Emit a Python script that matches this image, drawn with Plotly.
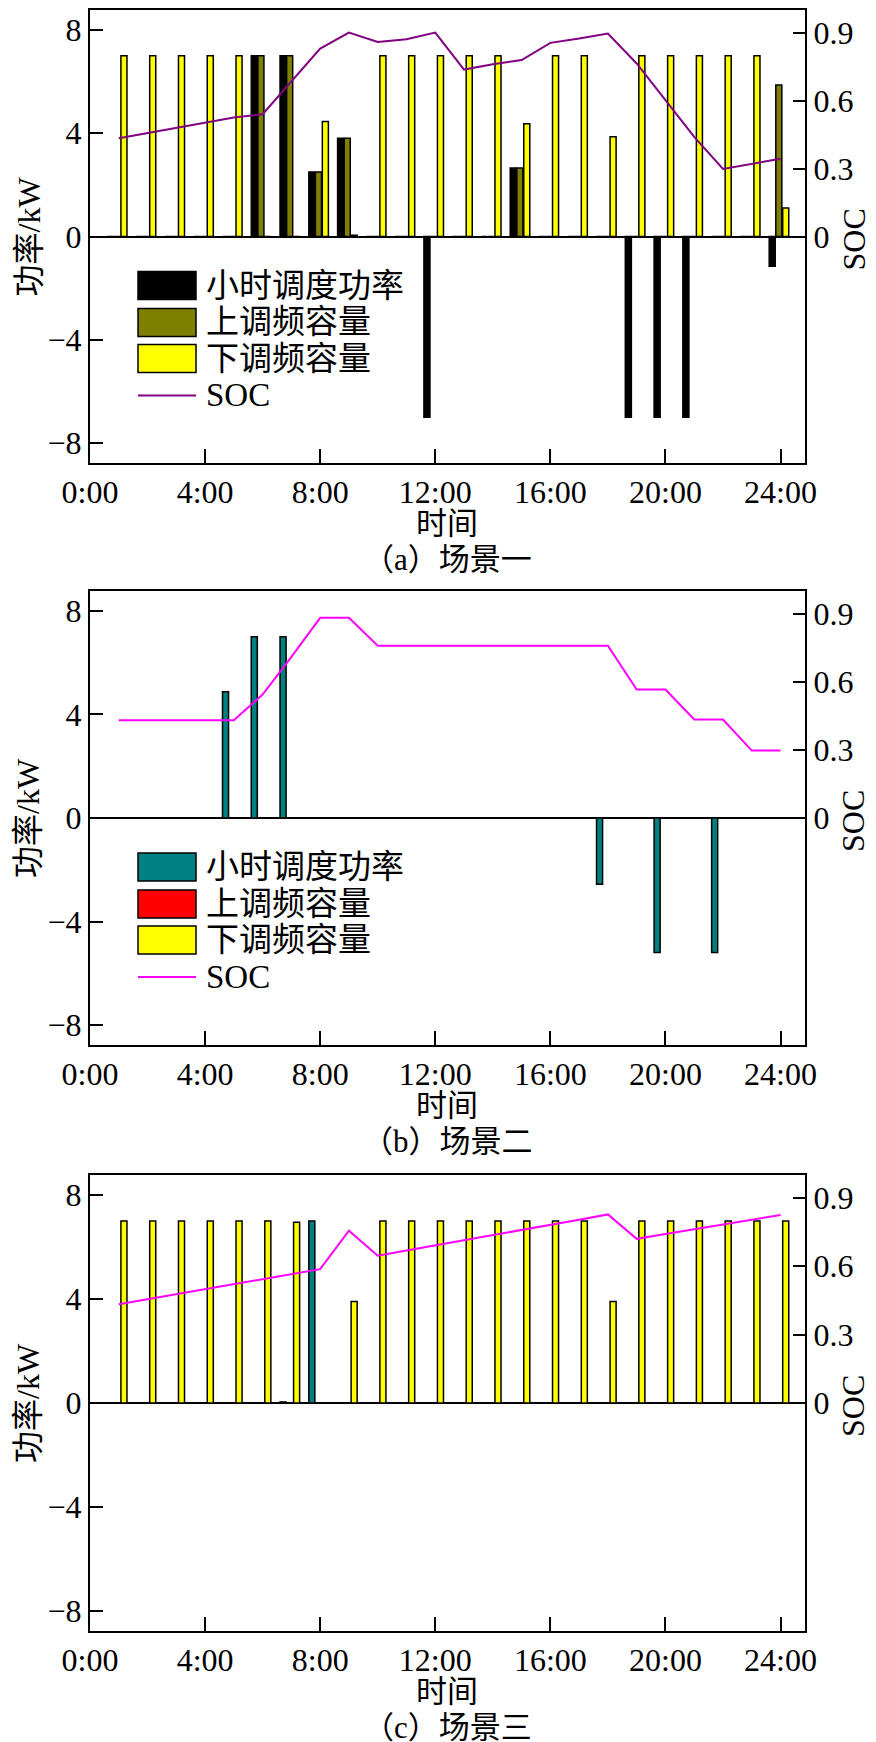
import plotly.graph_objects as go
from plotly.subplots import make_subplots

# ---------------- data ----------------
hours = list(range(1, 25))
x_tick_vals = [0, 4, 8, 12, 16, 20, 24]
x_tick_text = ["0:00", "4:00", "8:00", "12:00", "16:00", "20:00", "24:00"]
power_ticks = [-8, -4, 0, 4, 8]
soc_ticks = [0, 0.3, 0.6, 0.9]
soc_tick_text = ["0", "0.3", "0.6", "0.9"]

series_names = ["小时调度功率", "上调频容量", "下调频容量", "SOC"]
captions = ["（a）场景一", "（b）场景二", "（c）场景三"]
x_title = "时间"
y_title = "功率/kW"
y2_title = "SOC"

# scenario 1
a_dispatch = [0, 0, 0, 0, 0, 7, 7, 2.5, 3.8, 0, 0, -7, 0, 0, 2.65, 0, 0, 0, -7, -7, -7, 0, 0, -1.15]
a_up = [0, 0, 0, 0, 0, 7, 7, 2.5, 3.8, 0, 0, 0, 0, 0, 2.65, 0, 0, 0, 0, 0, 0, 0, 0, 5.87]
a_down = [7, 7, 7, 7, 7, 0, 0, 4.45, 0.05, 7, 7, 7, 7, 7, 4.37, 7, 7, 3.86, 7, 7, 7, 7, 7, 1.1]
a_soc = [0.434, 0.457, 0.480, 0.503, 0.525, 0.540, 0.683, 0.830, 0.900, 0.859, 0.871, 0.900,
         0.737, 0.760, 0.779, 0.855, 0.874, 0.896, 0.764, 0.600, 0.440, 0.298, 0.321, 0.343]

# scenario 2
b_dispatch = [0, 0, 0, 0, 4.88, 7, 7, 0, 0, 0, 0, 0, 0, 0, 0, 0, 0, -2.56, 0, -5.2, 0, -5.2, 0, 0]
b_up = [0] * 24
b_down = [0] * 24
b_soc = [0.431, 0.431, 0.431, 0.431, 0.431, 0.544, 0.710, 0.882, 0.882, 0.759, 0.759, 0.759,
         0.759, 0.759, 0.759, 0.759, 0.759, 0.759, 0.566, 0.566, 0.434, 0.434, 0.297, 0.297]

# scenario 3
c_dispatch = [0, 0, 0, 0, 0, 0, 0.04, 7, 0, 0, 0, 0, 0, 0, 0, 0, 0, 0, 0, 0, 0, 0, 0, 0]
c_up = [0] * 24
c_down = [7, 7, 7, 7, 7, 7, 6.95, 0, 3.9, 7, 7, 7, 7, 7, 7, 7, 7, 3.9, 7, 7, 7, 7, 7, 7]
c_soc = [0.433, 0.455, 0.477, 0.499, 0.521, 0.543, 0.565, 0.587, 0.756, 0.646, 0.669, 0.691,
         0.714, 0.737, 0.759, 0.782, 0.804, 0.827, 0.720, 0.741, 0.762, 0.783, 0.804, 0.825]

panels = [
    dict(dispatch=a_dispatch, up=a_up, down=a_down, soc=a_soc,
         colors=["#000000", "#808000", "#FFFF00"], soc_color="#800080", legend=True),
    dict(dispatch=b_dispatch, up=b_up, down=b_down, soc=b_soc,
         colors=["#008080", "#FF0000", "#FFFF00"], soc_color="#FF00FF", legend=True),
    dict(dispatch=c_dispatch, up=c_up, down=c_down, soc=c_soc,
         colors=["#008080", "#FF0000", "#FFFF00"], soc_color="#FF00FF", legend=False),
]

# ---------------- layout constants (pixels) ----------------
W, H = 876, 1742
PL, PR = 82, 797
panel_px = [(2, 455), (583, 1037), (1167, 1623)]
FONT = "Liberation Serif, Noto Sans CJK SC, serif"
TICK_SIZE = 32
TXT_SIZE = 32
LEG_SIZE = 33
CAP_SIZE = 31
BAR_W = 0.21
BAR_OFFSETS = [-0.395, -0.165, 0.075]


def px_x(p):
    return p / W


def px_y(p):
    return 1 - p / H


def text_note(x, y, text, size=TXT_SIZE, angle=0, xanchor="center"):
    fig.add_annotation(x=px_x(x), y=px_y(y), xref="paper", yref="paper", text=text,
                       showarrow=False, xanchor=xanchor, yanchor="middle", textangle=angle,
                       font=dict(family=FONT, size=size, color="black"))


fig = make_subplots(rows=3, cols=1, specs=[[{"secondary_y": True}]] * 3)

for i, pn in enumerate(panels):
    row = i + 1
    vals = [pn["dispatch"], pn["up"], pn["down"]]
    for k in range(3):
        fig.add_trace(
            go.Bar(x=hours, y=vals[k], name=series_names[k], width=BAR_W, offset=BAR_OFFSETS[k],
                   marker=dict(color=pn["colors"][k], line=dict(color="black", width=1.5)),
                   showlegend=False),
            row=row, col=1, secondary_y=False)
    fig.add_trace(
        go.Scatter(x=hours, y=pn["soc"], name=series_names[3], mode="lines",
                   line=dict(color=pn["soc_color"], width=2), showlegend=False),
        row=row, col=1, secondary_y=True)

    top, bot = panel_px[i]
    dom_y = [px_y(bot), px_y(top)]
    fig.update_xaxes(row=row, col=1, domain=[px_x(PL), px_x(PR)], range=[0, 24.85],
                     tickvals=x_tick_vals, ticktext=x_tick_text, ticks="inside", ticklen=14,
                     tickwidth=2, tickcolor="black", showline=True, linewidth=2, linecolor="black",
                     mirror=True, showgrid=False, zeroline=False, automargin=False,
                     tickfont=dict(family=FONT, size=TICK_SIZE, color="black"))
    fig.update_yaxes(row=row, col=1, secondary_y=False, domain=dom_y, range=[-8.77, 8.77],
                     tickvals=power_ticks, ticks="inside", ticklen=13, tickwidth=2,
                     tickcolor="black", showline=True, linewidth=2, linecolor="black",
                     showgrid=False, zeroline=True, zerolinecolor="black", zerolinewidth=2,
                     automargin=False,
                     tickfont=dict(family=FONT, size=TICK_SIZE, color="black"))
    fig.update_yaxes(row=row, col=1, secondary_y=True, range=[-1, 1],
                     tickvals=soc_ticks, ticktext=soc_tick_text, ticks="inside", ticklen=12,
                     tickwidth=2, tickcolor="black", showline=True, linewidth=2,
                     linecolor="black", showgrid=False, zeroline=False, automargin=False,
                     tickfont=dict(family=FONT, size=TICK_SIZE, color="black"))

    zero_px = (top + bot) / 2
    # axis titles and caption
    text_note((PL + PR) / 2, bot + 60, x_title, size=CAP_SIZE)
    text_note(20, zero_px, y_title, angle=-90)
    text_note(845, zero_px + 3, y2_title, size=TXT_SIZE, angle=-90)
    text_note((PL + PR) / 2, bot + 96, captions[i], size=CAP_SIZE)

    # custom legend
    if pn["legend"]:
        row_offsets = [49, 86, 122, 159]
        for k in range(4):
            cy = zero_px + row_offsets[k]
            if k < 3:
                fig.add_shape(type="rect", xref="paper", yref="paper",
                              x0=px_x(130), x1=px_x(188), y0=px_y(cy + 14), y1=px_y(cy - 14),
                              fillcolor=pn["colors"][k], line=dict(color="black", width=1.5))
            else:
                fig.add_shape(type="line", xref="paper", yref="paper",
                              x0=px_x(130), x1=px_x(188), y0=px_y(cy), y1=px_y(cy),
                              line=dict(color=pn["soc_color"], width=2))
            text_note(196, cy, series_names[k], size=LEG_SIZE, xanchor="left")

fig.update_layout(width=W, height=H, margin=dict(l=0, r=0, t=0, b=0),
                  plot_bgcolor="white", paper_bgcolor="white", barmode="overlay",
                  showlegend=False, font=dict(family=FONT, color="black"))

fig.write_html("out.html")
